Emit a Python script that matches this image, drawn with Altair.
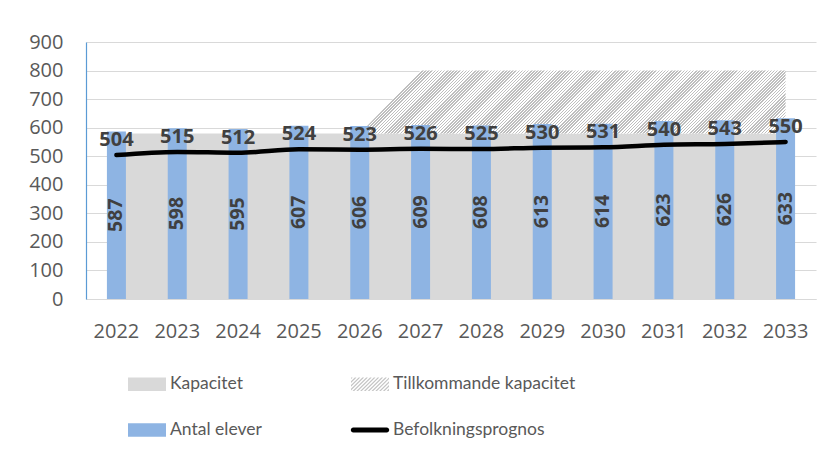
import altair as alt
import pandas as pd

# ---------------- data ----------------
years = [2022, 2023, 2024, 2025, 2026, 2027, 2028, 2029, 2030, 2031, 2032, 2033]
antal_elever = [587, 598, 595, 607, 606, 609, 608, 613, 614, 623, 626, 633]
befolkningsprognos = [504, 515, 512, 524, 523, 526, 525, 530, 531, 540, 543, 550]
kapacitet = [580, 580, 580, 580, 580, 580, 580, 580, 580, 580, 580, 580]
tillkommande_kapacitet = [0, 0, 0, 0, 0, 220, 220, 220, 220, 220, 220, 220]
series_names = ["Kapacitet", "Tillkommande kapacitet", "Antal elever", "Befolkningsprognos"]
y_ticks = [0, 100, 200, 300, 400, 500, 600, 700, 800, 900]

# ---------------- style ----------------
C_KAP = "#D9D9D9"
C_HATCH = "#BEBEBE"
C_BAR = "#8EB4E3"
C_LINE = "#000000"
C_AXIS_TXT = "#595959"
C_LABEL = "#404040"
AXIS_FONT = "Open Sans"
LEGEND_FONT = "Lato"
PW, PH = 730, 257
YMAX = 900

df = pd.DataFrame({
    "year": years,
    "antal": antal_elever,
    "befolk": befolkningsprognos,
    "kap": kapacitet,
    "till": tillkommande_kapacitet,
})
df["total"] = df["kap"] + df["till"]
df["kap_series"] = series_names[0]
df["antal_series"] = series_names[2]

first = next(i for i, v in enumerate(tillkommande_kapacitet) if v > 0)
hatch_df = df.iloc[max(first - 1, 0):].copy()

legend_df = pd.DataFrame({"series": series_names})

# ---- diagonal hatch as a striped linear gradient (objectBoundingBox units) ----
W = PW / len(years) * (len(hatch_df) - 1)
H = PH * (hatch_df["total"].max() - hatch_df["kap"].min()) / YMAX
r = H / W
s = (1 + r) / (1 + r * r)
n_periods = int(round((W + H) / 2 ** 0.5 / 2.2))
stops = []
for k in range(n_periods):
    a = k / n_periods
    b = (k + 0.5) / n_periods
    c = (k + 1) / n_periods
    stops += [
        alt.GradientStop(offset=a, color=C_HATCH),
        alt.GradientStop(offset=b, color=C_HATCH),
        alt.GradientStop(offset=b, color="#FFFFFF"),
        alt.GradientStop(offset=c, color="#FFFFFF"),
    ]
hatch_fill = alt.LinearGradient(gradient="linear", stops=stops, x1=0, y1=0, x2=s, y2=s * r)

# ---- legend symbol paths (unit square -1..1) ----
hh = 0.36
rect_path = f"M-1,{-hh}H1V{hh}H-1Z"
line_path = "M-0.88,-0.13H0.88A0.13,0.13 0 0 1 0.88,0.13H-0.88A0.13,0.13 0 0 1 -0.88,-0.13Z"


def clip(poly, fn):
    out = []
    for i in range(len(poly)):
        p, q = poly[i], poly[(i + 1) % len(poly)]
        fp, fq = fn(p), fn(q)
        if fp >= 0:
            out.append(p)
        if (fp >= 0) != (fq >= 0):
            t = fp / (fp - fq)
            out.append((p[0] + t * (q[0] - p[0]), p[1] + t * (q[1] - p[1])))
    return out


stripe_parts = []
period, sw = 0.2, 0.09
c0 = -1 - hh
while c0 < 1 + hh:
    poly = [(-1, -hh), (1, -hh), (1, hh), (-1, hh)]
    poly = clip(poly, lambda p, c=c0: p[0] + p[1] - c)
    poly = clip(poly, lambda p, c=c0: c + sw - (p[0] + p[1]))
    if len(poly) >= 3:
        stripe_parts.append("M" + "L".join(f"{x:.3f},{y:.3f}" for x, y in poly) + "Z")
    c0 += period
stripe_path = "".join(stripe_parts)

color_scale = alt.Scale(domain=series_names, range=[C_KAP, "#C4C4C4", C_BAR, C_LINE])
shape_scale = alt.Scale(domain=series_names, range=[rect_path, stripe_path, rect_path, line_path])

legend = alt.Legend(
    orient="none", legendX=42, legendY=323, columns=2, direction="horizontal",
    columnPadding=88, rowPadding=18,
    padding=0, symbolSize=1444, symbolOpacity=1, symbolStrokeWidth=0,
    labelFont=LEGEND_FONT, labelFontSize=17.5, labelColor=C_AXIS_TXT, labelOffset=4,
    labelLimit=400,
)

x_enc = alt.X("year:O", title=None, scale=alt.Scale(paddingInner=0, paddingOuter=0))
y_axis = alt.Axis(values=y_ticks, title=None)
y_scale = alt.Scale(domain=[0, YMAX])

legend_layer = alt.Chart(legend_df).mark_point(filled=True, opacity=0, size=1444).encode(
    color=alt.Color("series:N", scale=color_scale, legend=legend, title=None),
    shape=alt.Shape("series:N", scale=shape_scale, legend=legend, title=None),
)

kap_area = alt.Chart(df).mark_area(opacity=1).encode(
    x=x_enc,
    y=alt.Y("kap:Q", scale=y_scale, axis=y_axis),
    color=alt.Color("kap_series:N", scale=color_scale, legend=legend, title=None),
)

hatch_area = alt.Chart(hatch_df).mark_area(fill=hatch_fill, opacity=1).encode(
    x=x_enc,
    y=alt.Y("total:Q", scale=y_scale, axis=y_axis),
    y2="kap:Q",
)

bars = alt.Chart(df).mark_bar(size=19).encode(
    x=x_enc,
    y=alt.Y("antal:Q", scale=y_scale, axis=y_axis),
    color=alt.Color("antal_series:N", scale=color_scale, legend=legend, title=None),
)

line = alt.Chart(df).mark_line(color=C_LINE, strokeWidth=4.5, strokeCap="round",
                               strokeJoin="round", interpolate="monotone").encode(
    x=x_enc,
    y=alt.Y("befolk:Q", scale=y_scale, axis=y_axis),
)

bar_labels = alt.Chart(df).transform_calculate(mid="datum.antal / 2").mark_text(
    angle=270, align="center", baseline="middle", font=AXIS_FONT, fontSize=19.5,
    fontWeight="bold", color=C_LABEL,
).encode(
    x=x_enc,
    y=alt.Y("mid:Q", scale=y_scale, axis=y_axis),
    text=alt.Text("antal:Q"),
)

line_labels = alt.Chart(df).mark_text(
    align="center", baseline="middle", dy=-15, font=AXIS_FONT, fontSize=20,
    fontWeight="bold", color=C_LABEL,
).encode(
    x=x_enc,
    y=alt.Y("befolk:Q", scale=y_scale, axis=y_axis),
    text=alt.Text("befolk:Q"),
)

chart = alt.layer(
    legend_layer, kap_area, hatch_area, bars, line, bar_labels, line_labels
).properties(
    width=PW, height=PH,
    padding={"left": 78, "top": 34, "right": 11, "bottom": 150},
    autosize=alt.AutoSizeParams(type="none"),
).configure_view(
    stroke="transparent"
).configure_axisX(
    labelFont=AXIS_FONT, labelFontSize=20, labelColor=C_AXIS_TXT, labelAngle=0,
    labelBaseline="middle", labelPadding=32, ticks=False, tickSize=0,
    domainColor="#D9D9D9", domainWidth=1, grid=False,
).configure_axisY(
    labelFont=AXIS_FONT, labelFontSize=20, labelColor=C_AXIS_TXT, labelPadding=23,
    ticks=False, tickSize=0, domainColor="#5B9BD5", domainWidth=1.2,
    gridColor="#D9D9D9", gridWidth=1,
)

chart.save("out.html", embed_options={"renderer": "svg", "actions": False})
